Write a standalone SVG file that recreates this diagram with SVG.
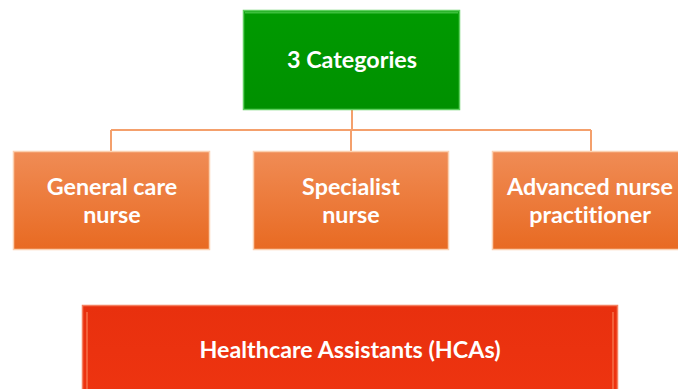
<svg xmlns="http://www.w3.org/2000/svg" width="678" height="389" viewBox="0 0 678 389">
  <defs>
    <linearGradient id="gOrange" x1="0" y1="0" x2="0" y2="1">
      <stop offset="0" stop-color="#f08c55"/>
      <stop offset="1" stop-color="#e86a22"/>
    </linearGradient>
    <linearGradient id="gGreen" x1="0" y1="0" x2="0" y2="1">
      <stop offset="0" stop-color="#009a00"/>
      <stop offset="1" stop-color="#009000"/>
    </linearGradient>
    <linearGradient id="gRed" x1="0" y1="0" x2="0" y2="1">
      <stop offset="0" stop-color="#e8300e"/>
      <stop offset="1" stop-color="#ee3410"/>
    </linearGradient>
  </defs>
  <style>
    .lbl { font-family: Lato, "Open Sans", "Liberation Sans", sans-serif; font-weight: 700; fill: #ffffff; text-anchor: middle; font-size: 23.3px; font-variant-ligatures: none; }
    .conn { stroke: #f4a06c; stroke-width: 2; fill: none; }
    .orange { fill: url(#gOrange); stroke: #fbd0b0; stroke-width: 1.5; }
    .green { fill: url(#gGreen); stroke: #5fd05f; stroke-width: 1.5; }
    .red { fill: url(#gRed); stroke: #f48060; stroke-width: 1.5; }
  </style>

  <rect width="678" height="389" fill="#ffffff"/>

  <!-- tree connectors -->
  <g id="connectors">
    <path class="conn" d="M352 110 V130 M111 130 H591 M111 130 V151 M351 130 V151 M591 130 V151"/>
  </g>

  <g id="categories">
    <rect class="green" x="243.5" y="10.5" width="216" height="99"/>
    <line x1="245" y1="12.5" x2="458" y2="12.5" stroke="#3cc03c" stroke-width="2"/>
    <text class="lbl" x="352" y="68">3 Categories</text>
  </g>

  <g id="general-care-nurse">
    <rect class="orange" x="13.5" y="151.5" width="196" height="98"/>
    <text class="lbl" x="112" y="195">General care</text>
    <text class="lbl" x="112" y="223">nurse</text>
  </g>

  <g id="specialist-nurse">
    <rect class="orange" x="253.5" y="151.5" width="195" height="98"/>
    <text class="lbl" x="351" y="195">Specialist</text>
    <text class="lbl" x="351" y="223">nurse</text>
  </g>

  <g id="advanced-nurse-practitioner">
    <rect class="orange" x="492.5" y="151.5" width="196" height="98"/>
    <text class="lbl" x="590" y="195">Advanced nurse</text>
    <text class="lbl" x="590" y="223">practitioner</text>
  </g>

  <g id="healthcare-assistants">
    <rect class="red" x="82.5" y="305.5" width="535" height="90"/>
    <line x1="87" y1="312" x2="87" y2="389" stroke="#f6704a" stroke-width="1.5"/>
    <line x1="613" y1="312" x2="613" y2="389" stroke="#f6704a" stroke-width="1.5"/>
    <text class="lbl" x="350" y="358">Healthcare Assistants (HCAs)</text>
  </g>
</svg>
